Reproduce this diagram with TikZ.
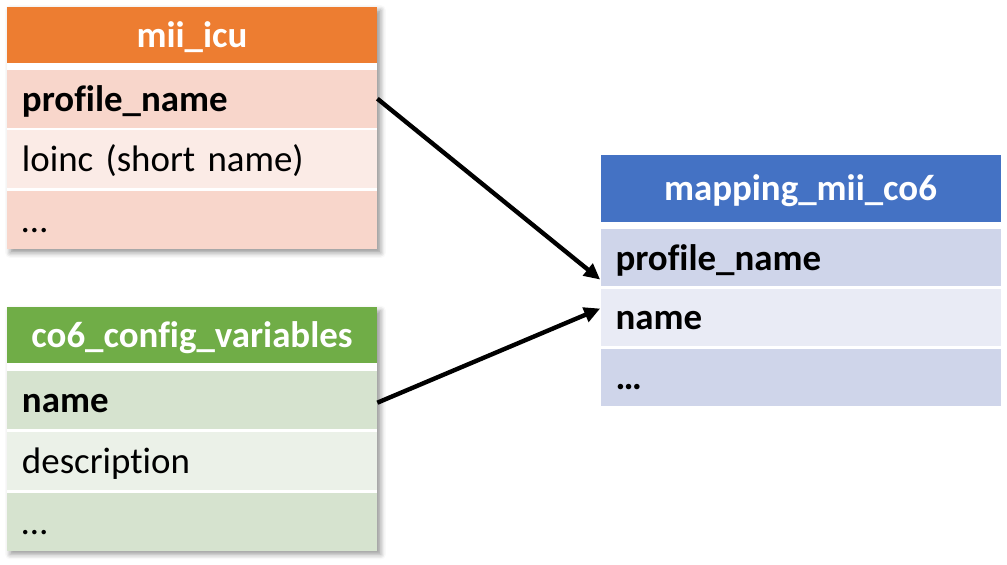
\documentclass[tikz,border=0pt]{standalone}
\usepackage{fontspec}
\setmainfont[Ligatures=NoCommon]{Carlito}
\usetikzlibrary{arrows.meta,positioning,fit,backgrounds,shadows.blur}
\definecolor{icuhd}{HTML}{ED7D31}
\definecolor{icudk}{HTML}{F8D6CB}
\definecolor{icult}{HTML}{FBEBE6}
\definecolor{cfghd}{HTML}{70AD47}
\definecolor{cfgdk}{HTML}{D6E3CF}
\definecolor{cfglt}{HTML}{EBF1E8}
\definecolor{maphd}{HTML}{4472C4}
\definecolor{mapdk}{HTML}{CFD5EA}
\definecolor{maplt}{HTML}{E9EBF5}
\tikzset{%
	head/.style    = {rectangle, minimum height=1.12cm, text=white, font=\bfseries\fontsize{21}{25}\selectfont, text height=0.6cm, text depth=0.1cm},
	cell/.style    = {rectangle, minimum height=1.16cm, align=left, inner xsep=0.3cm, font=\fontsize{21}{25}\selectfont, text height=0.6cm, text depth=0.1cm},
	leftcell/.style= {cell, text width=6.8cm},
	mapcell/.style = {cell, minimum height=1.14cm, text width=7.4cm},
	keycell/.style = {font=\bfseries\fontsize{21}{25}\selectfont},
	tablebg/.style = {fill=white, inner sep=0pt, blur shadow={shadow xshift=0.07cm, shadow yshift=-0.07cm, shadow blur radius=0.1cm, shadow opacity=40}},
	arrow/.style   = {line width=2.5pt, -{Triangle[length=0.32cm,width=0.3cm]}},
}
\begin{document}
\begin{tikzpicture}
	\useasboundingbox (0,0) rectangle (20.14,-11.30);
	
	% mii_icu
	\node[head, fill=icuhd, minimum width=7.4cm] (icuhead) at (3.84,-0.70) {mii\_icu};
	\node[leftcell, keycell, fill=icudk, below=0.12cm of icuhead] (icupn) {profile\_name};
	\node[leftcell, fill=icult, below=0.04cm of icupn] (iculoinc) {loinc (short name)};
	\node[leftcell, fill=icudk, below=0.04cm of iculoinc] (icumore) {…};
	
	% co6_config_variables
	\node[head, fill=cfghd, minimum width=7.4cm] (cfghead) at (3.84,-6.71) {co6\_config\_variables};
	\node[leftcell, keycell, fill=cfgdk, below=0.14cm of cfghead] (cfgname) {name};
	\node[leftcell, fill=cfglt, below=0.04cm of cfgname] (cfgdesc) {description};
	\node[leftcell, fill=cfgdk, below=0.04cm of cfgdesc] (cfgmore) {…};
	
	% mapping_mii_co6
	\node[head, fill=maphd, minimum width=8cm, minimum height=1.34cm] (maphead) at (16.01,-3.77) {mapping\_mii\_co6};
	\node[mapcell, keycell, fill=mapdk, below=0.13cm of maphead] (mappn) {profile\_name};
	\node[mapcell, keycell, fill=maplt, below=0.04cm of mappn] (mapname) {name};
	\node[mapcell, keycell, fill=mapdk, below=0.04cm of mapname] (mapmore) {…};
	
	\begin{scope}[on background layer]
		\node[tablebg, fit=(icuhead)(icumore)] (icubg) {};
		\node[tablebg, fit=(cfghead)(cfgmore)] (cfgbg) {};
	\end{scope}
	
	\draw[arrow] (icupn.east) -- ([yshift=0.14cm]mappn.south west);
	\draw[arrow] ([yshift=-0.05cm]cfgname.east) -- ([yshift=-0.4cm]mapname.north west);
\end{tikzpicture}
\end{document}
